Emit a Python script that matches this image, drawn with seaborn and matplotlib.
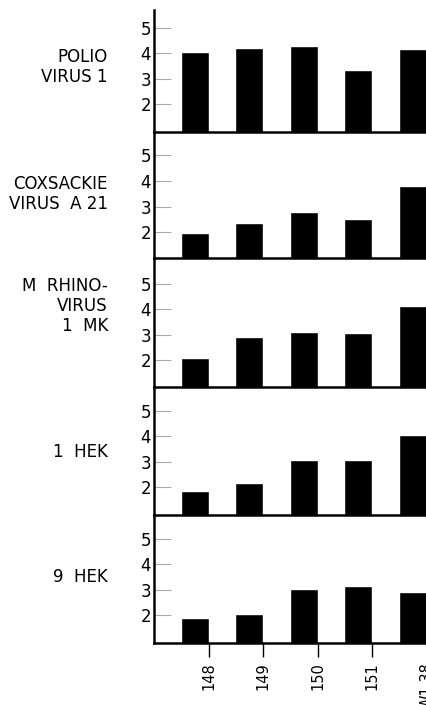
import numpy as np
import matplotlib as mpl
mpl.use("Agg")
import matplotlib.pyplot as plt
import seaborn as sns

# strains along the bottom axis
strains = ["148", "149", "150", "151", "W1.38"]

# virus labels (left of each panel)
viruses = [
    "POLIO\nVIRUS 1",
    "COXSACKIE\nVIRUS  A 21",
    "M  RHINO-\nVIRUS\n1  MK",
    "1  HEK",
    "9  HEK",
]

# bar heights
polio1 = [4.05, 4.2, 4.27, 3.35, 4.15]
coxsackie_a21 = [1.96, 2.35, 2.8, 2.5, 3.8]
rhino_1mk = [2.1, 2.92, 3.1, 3.06, 4.12]
hek_1 = [1.85, 2.15, 3.08, 3.08, 4.04]
hek_9 = [1.88, 2.04, 3.03, 3.15, 2.92]

series = [polio1, coxsackie_a21, rhino_1mk, hek_1, hek_9]
yticks = [2, 3, 4, 5]

sns.set_style("white")
plt.rcParams['font.family'] = ['DejaVu Sans']
plt.rcParams['text.color'] = 'black'
plt.rcParams['xtick.color'] = 'black'
plt.rcParams['ytick.color'] = 'black'

W, H = 427, 705
fig = plt.figure(figsize=(W / 100, H / 100), dpi=100)

# panel extents in pixels (top, bottom) and y ranges
panels_px = [(10, 132), (132, 258), (258, 387), (387, 515), (515, 643)]
ylims = [(0.9, 5.7), (1.0, 5.9), (0.95, 6.0), (0.9, 5.95), (0.9, 5.95)]
label_y = [67, 194, 306, 452, 577]

left_px, right_px = 154, 427
for i, (vals, (top, bot)) in enumerate(zip(series, panels_px)):
    ax = fig.add_axes([left_px / W, 1 - bot / H, (right_px - left_px) / W, (bot - top) / H])
    ax.patch.set_alpha(0)
    sns.barplot(x=strains, y=vals, color="black", saturation=1, width=0.51, ax=ax)
    ax.set_xlim(-0.75, 4.26)
    ax.set_ylim(*ylims[i])
    ax.set_yticks(yticks)
    ax.set_ylabel("")
    ax.set_xlabel("")
    for s in ["top", "right"]:
        ax.spines[s].set_visible(False)
    for s in ["left", "bottom"]:
        ax.spines[s].set_linewidth(1.8)
        ax.spines[s].set_color("black")
        ax.spines[s].set_zorder(5)
    ax.tick_params(axis="y", direction="in", length=12, width=0.8, color="#aaaaaa",
                   labelsize=12, labelcolor="black", pad=2, left=True)
    if i < len(series) - 1:
        ax.tick_params(axis="x", bottom=False, labelbottom=False)
    else:
        ax.set_xticks(np.arange(len(strains)) + 0.255)
        ax.set_xticklabels(strains, rotation=90, va="top", ha="center")
        ax.tick_params(axis="x", direction="out", length=10, width=1, color="black",
                       labelsize=10.5, labelcolor="black", pad=4, bottom=True)
    fig.text(108 / W, 1 - label_y[i] / H, viruses[i], ha="right", va="center",
             fontsize=12, linespacing=1.15, multialignment="right", color="black")

fig.savefig("out.png", dpi=100, facecolor="white")
